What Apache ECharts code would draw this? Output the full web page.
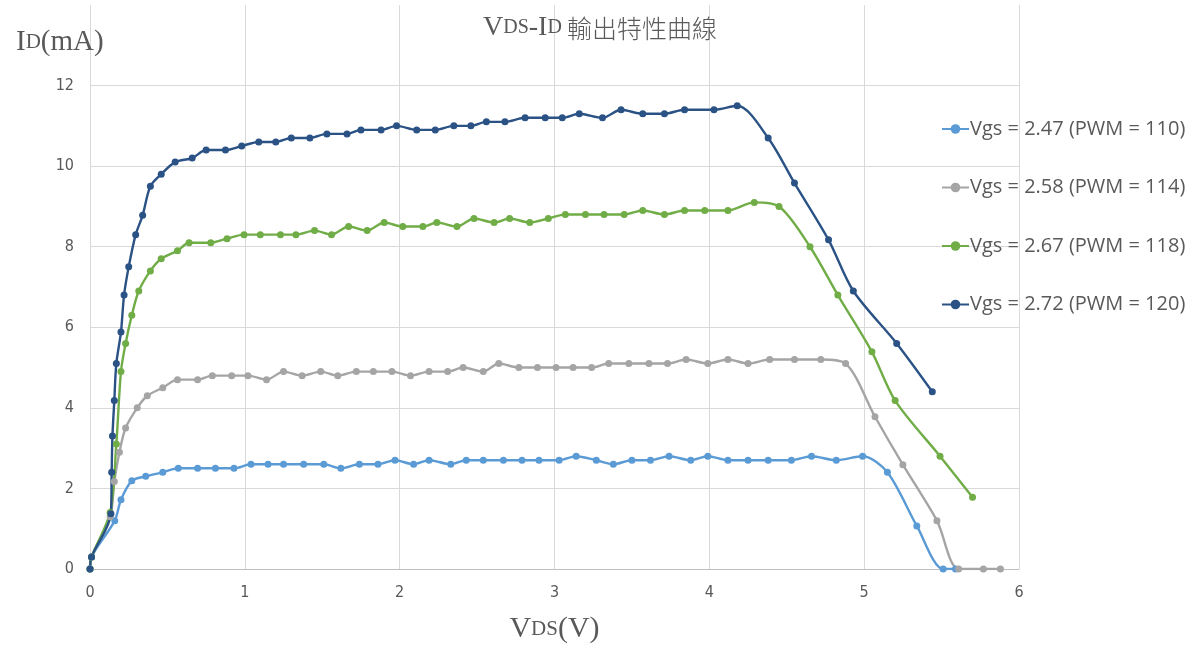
<!DOCTYPE html>
<html><head><meta charset="utf-8">
<script src="https://cdn.jsdelivr.net/npm/echarts@6/dist/echarts.min.js"></script>
<style>html,body{margin:0;padding:0;background:#fff}#c{width:1199px;height:649px}</style>
</head><body><div id="c"></div>
<script>
var seriesNames = ['Vgs = 2.47 (PWM = 110)','Vgs = 2.58 (PWM = 114)','Vgs = 2.67 (PWM = 118)','Vgs = 2.72 (PWM = 120)'];
var xTicks = [0,1,2,3,4,5,6];
var yTicks = [0,2,4,6,8,10,12];

var vds247 = [0,0.01,0.16,0.2,0.27,0.36,0.47,0.57,0.695,0.81,0.93,1.04,1.15,1.25,1.38,1.51,1.62,1.74,1.86,1.97,2.09,2.19,2.33,2.43,2.54,2.67,2.79,2.9,3.03,3.14,3.27,3.38,3.5,3.62,3.74,3.88,3.99,4.12,4.25,4.38,4.53,4.66,4.82,4.99,5.15,5.34,5.51,5.59];
var id247  = [0,0.3,1.2,1.72,2.19,2.3,2.4,2.5,2.5,2.5,2.5,2.6,2.6,2.6,2.6,2.6,2.5,2.6,2.6,2.7,2.6,2.7,2.6,2.7,2.7,2.7,2.7,2.7,2.7,2.8,2.7,2.6,2.7,2.7,2.8,2.7,2.8,2.7,2.7,2.7,2.7,2.8,2.7,2.8,2.4,1.07,0,0];

var vds258 = [0,0.01,0.13,0.157,0.19,0.23,0.305,0.37,0.47,0.565,0.695,0.79,0.915,1.02,1.14,1.25,1.37,1.49,1.6,1.72,1.83,1.95,2.07,2.19,2.31,2.41,2.54,2.64,2.77,2.89,3.01,3.12,3.24,3.35,3.48,3.61,3.73,3.85,3.99,4.12,4.25,4.39,4.55,4.72,4.88,5.07,5.25,5.47,5.61,5.77,5.88];
var id258  = [0,0.3,1.3,2.17,2.9,3.5,4.0,4.3,4.5,4.7,4.7,4.8,4.8,4.8,4.7,4.9,4.8,4.9,4.8,4.9,4.9,4.9,4.8,4.9,4.9,5.0,4.9,5.1,5.0,5.0,5.0,5.0,5.0,5.1,5.1,5.1,5.1,5.2,5.1,5.2,5.1,5.2,5.2,5.2,5.1,3.78,2.59,1.2,0,0,0];

var vds267 = [0,0.01,0.13,0.17,0.2,0.23,0.27,0.315,0.39,0.46,0.565,0.64,0.78,0.885,0.995,1.1,1.23,1.33,1.45,1.56,1.67,1.79,1.9,2.02,2.15,2.24,2.37,2.48,2.61,2.71,2.84,2.96,3.07,3.2,3.32,3.45,3.57,3.71,3.84,3.97,4.12,4.29,4.45,4.65,4.83,5.05,5.2,5.49,5.7];
var id267  = [0,0.3,1.4,3.1,4.9,5.6,6.3,6.9,7.4,7.7,7.9,8.1,8.1,8.2,8.3,8.3,8.3,8.3,8.4,8.3,8.5,8.4,8.6,8.5,8.5,8.6,8.5,8.7,8.6,8.7,8.6,8.7,8.8,8.8,8.8,8.8,8.9,8.8,8.9,8.9,8.9,9.1,9.0,8.0,6.8,5.39,4.18,2.8,1.78];

var vds272 = [0,0.01,0.135,0.14,0.145,0.157,0.17,0.2,0.22,0.25,0.295,0.34,0.39,0.46,0.55,0.66,0.75,0.875,0.98,1.09,1.2,1.3,1.42,1.53,1.66,1.75,1.88,1.98,2.11,2.23,2.35,2.46,2.56,2.68,2.81,2.94,3.05,3.16,3.31,3.43,3.57,3.71,3.84,4.03,4.18,4.38,4.55,4.77,4.93,5.21,5.44];
var id272  = [0,0.3,1.37,2.4,3.3,4.18,5.1,5.88,6.8,7.5,8.3,8.78,9.5,9.8,10.1,10.2,10.4,10.4,10.5,10.6,10.6,10.7,10.7,10.8,10.8,10.9,10.9,11.0,10.9,10.9,11.0,11.0,11.1,11.1,11.2,11.2,11.2,11.3,11.2,11.4,11.3,11.3,11.4,11.4,11.5,10.7,9.58,8.17,6.9,5.6,4.4];

var colors = ['#5b9bd5','#a5a5a5','#70ad47','#2b5285'];
function pairs(xs, ys){ return xs.map(function(x,i){ return [x, ys[i]]; }); }
var allData = [pairs(vds247,id247), pairs(vds258,id258), pairs(vds267,id267), pairs(vds272,id272)];

var chart = echarts.init(document.getElementById('c'), null, {renderer:'canvas'});
var serif = "'Liberation Serif','DejaVu Serif',serif";
var cjk = "'Noto Sans CJK TC','Noto Sans CJK SC',sans-serif";
var narrow = "'Liberation Sans Narrow','DejaVu Sans Condensed',sans-serif";
var gridColor = '#d9d9d9';
var ySplitColors = yTicks.map(function(){ return gridColor; }).concat(['rgba(0,0,0,0)']);
var txt = '#595959';

chart.setOption({
  animation: false,
  color: colors,
  title: [{
    text: '{a|V}{b|DS}{a|-I}{b|D} {c|輸出特性曲線}',
    left: 478, top: 9,
    textStyle: { fontWeight: 'normal', rich: {
      a: {fontFamily: serif, fontSize: 28, color: txt, fontWeight: 'normal'},
      b: {fontFamily: serif, fontSize: 20, color: txt, fontWeight: 'normal'},
      c: {fontFamily: cjk, fontSize: 25, color: txt, fontWeight: 300}
    }}
  },{
    text: '{a|I}{b|D}{a|(mA)}',
    left: 11, top: 23,
    textStyle: { fontWeight: 'normal', rich: {
      a: {fontFamily: serif, fontSize: 29, color: txt, fontWeight: 'normal'},
      b: {fontFamily: serif, fontSize: 21, color: txt, fontWeight: 'normal'}
    }}
  }],
  legend: {
    orient: 'vertical', left: 936, top: 114,
    itemWidth: 27, itemHeight: 12, itemGap: 38.5,
    data: seriesNames,
    textStyle: {fontFamily: "'Open Sans',sans-serif", fontSize: 20, color: txt, padding: [0,0,0,-4]}
  },
  grid: {left: 90, right: 180, top: 5, bottom: 77, containLabel: false},
  xAxis: {
    type: 'value', min: xTicks[0], max: xTicks[xTicks.length-1], interval: 1,
    name: '{a|V}{b|DS}{a|(V)}', nameLocation: 'middle', nameGap: 45,
    nameTextStyle: { rich: {
      a: {fontFamily: serif, fontSize: 30, color: txt},
      b: {fontFamily: serif, fontSize: 21, color: txt}
    }},
    axisLine: {show: true, lineStyle: {color: '#bfbfbf', width: 1}},
    axisTick: {show: false},
    axisLabel: {color: txt, fontFamily: narrow, fontSize: 16, margin: 16},
    splitLine: {show: true, lineStyle: {color: gridColor, width: 1}}
  },
  yAxis: {
    type: 'value', min: 0, max: 14, interval: 2,
    axisLine: {show: false},
    axisTick: {show: false},
    axisLabel: {color: txt, fontFamily: narrow, fontSize: 16, margin: 16,
      formatter: function(v){ return yTicks.indexOf(v) >= 0 ? String(v) : ''; }},
    splitLine: {show: true, lineStyle: {color: ySplitColors, width: 1}}
  },
  series: allData.map(function(d, i){
    return {
      name: seriesNames[i], type: 'line', data: d, smooth: 0.3,
      symbol: 'circle', symbolSize: 7, showSymbol: true,
      lineStyle: {width: 2.4, color: colors[i]},
      itemStyle: {color: colors[i]}
    };
  })
});
</script></body></html>
